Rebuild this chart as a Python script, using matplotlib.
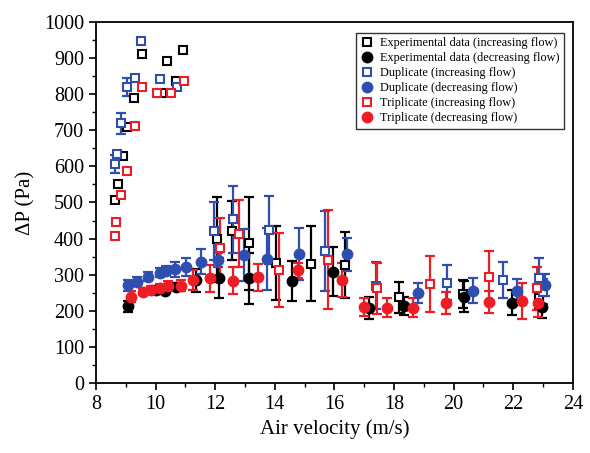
#!/usr/bin/env python3
"""Pressure drop vs air velocity, increasing / decreasing flow runs."""

import matplotlib

matplotlib.use("Agg")
import matplotlib.pyplot as plt
from matplotlib.ticker import MultipleLocator

# Experimental data (black)
exp_inc_x = [8.64, 8.73, 8.92, 9.03, 9.28, 9.53, 10.2, 10.37, 10.68, 10.93,
             12.07, 12.55, 13.14, 14.04, 15.2, 16.34, 18.17, 20.3, 22.85]
exp_inc_y = [507, 550, 630, 708, 789, 911, 804, 893, 837, 922,
             398, 422, 387, 333, 330, 327, 237, 247, 235]
exp_inc_err = [0, 0, 0, 0, 0, 0, 0, 0, 0, 0,
               117, 82, 128, 102, 104, 92, 44, 38, 30]

exp_dec_x = [9.08, 10.0, 10.3, 10.7, 11.37, 12.13, 13.12, 14.59, 15.95,
             17.15, 18.35, 20.36, 21.95, 22.97]
exp_dec_y = [213, 259, 256, 267, 285, 290, 290, 283, 308,
             207, 213, 239, 222, 211]
exp_dec_err = [15, 10, 10, 10, 32, 55, 70, 55, 68, 30, 25, 43, 35, 30]

# Duplicate (blue)
dup_inc_x = [8.64, 8.72, 8.84, 9.05, 9.31, 9.51, 10.15, 10.71,
             11.96, 12.6, 13.82, 15.7, 17.4, 19.77, 21.65, 22.85, 23.0]
dup_inc_y = [607, 634, 719, 819, 844, 947, 841, 819,
             422, 453, 424, 366, 270, 278, 285, 290, 253]
dup_inc_err = [25, 0, 28, 25, 0, 0, 0, 0,
               80, 93, 95, 110, 65, 48, 50, 56, 35]

dup_dec_x = [9.08, 9.36, 9.75, 10.14, 10.34, 10.64, 11.03, 11.53, 12.1,
             12.95, 13.75, 14.81, 16.43, 18.8, 20.66, 22.14, 23.05]
dup_dec_y = [271, 281, 295, 306, 311, 315, 322, 336, 341,
             354, 343, 357, 357, 250, 256, 256, 271]
dup_dec_err = [15, 12, 12, 12, 12, 20, 25, 35, 20,
               72, 85, 72, 46, 28, 34, 32, 30]

# Triplicate (red)
tri_inc_x = [8.64, 8.66, 8.84, 9.03, 9.31, 9.53, 10.04, 10.52, 10.96,
             12.16, 12.81, 14.14, 15.8, 17.44, 19.21, 21.2, 22.8]
tri_inc_y = [407, 446, 521, 588, 712, 819, 804, 804, 837,
             373, 414, 313, 341, 262, 274, 294, 262]
tri_inc_err = [0, 0, 0, 0, 0, 0, 0, 0, 0,
               83, 94, 102, 137, 70, 78, 72, 60]

tri_dec_x = [9.17, 9.58, 9.84, 10.14, 10.42, 10.84, 11.25, 11.81, 12.59,
             13.42, 14.78, 16.24, 16.99, 17.75, 18.64, 19.75, 21.2, 22.28, 22.82]
tri_dec_y = [239, 253, 258, 262, 270, 269, 285, 290, 283,
             293, 312, 285, 210, 209, 209, 221, 225, 228, 222]
tri_dec_err = [15, 10, 10, 12, 12, 15, 27, 37, 37,
               37, 20, 48, 25, 27, 27, 30, 30, 50, 40]

BLACK = "#000000"
BLUE = "#2f4fb0"
RED = "#ee1c24"

SERIES = [
    (exp_inc_x, exp_inc_y, exp_inc_err, BLACK, "s", False,
     "Experimental data (increasing flow)"),
    (exp_dec_x, exp_dec_y, exp_dec_err, BLACK, "o", True,
     "Experimental data (decreasing flow)"),
    (dup_inc_x, dup_inc_y, dup_inc_err, BLUE, "s", False,
     "Duplicate (increasing flow)"),
    (dup_dec_x, dup_dec_y, dup_dec_err, BLUE, "o", True,
     "Duplicate (decreasing flow)"),
    (tri_inc_x, tri_inc_y, tri_inc_err, RED, "s", False,
     "Triplicate (increasing flow)"),
    (tri_dec_x, tri_dec_y, tri_dec_err, RED, "o", True,
     "Triplicate (decreasing flow)"),
]


def main() -> None:
    plt.rcParams["font.family"] = ["Liberation Serif", "DejaVu Serif"]

    fig = plt.figure(figsize=(5.9, 4.53), dpi=100)
    ax = fig.add_axes([0.1627, 0.1545, 0.8083, 0.797])

    for x, y, err, color, marker, filled, label in SERIES:
        ax.errorbar(
            x, y, yerr=err, fmt="none", ecolor=color,
            elinewidth=1.6, capsize=3.6, capthick=1.6, zorder=2,
        )
        ax.plot(
            x, y, linestyle="none", marker=marker,
            markersize=7.0 if filled else 6.0,
            markerfacecolor=color if filled else "white",
            markeredgecolor=color, markeredgewidth=1.5,
            label=label, zorder=3,
        )

    ax.set_xlim(8, 24)
    ax.set_ylim(0, 1000)
    ax.xaxis.set_major_locator(MultipleLocator(2))
    ax.xaxis.set_minor_locator(MultipleLocator(1))
    ax.yaxis.set_major_locator(MultipleLocator(100))
    ax.yaxis.set_minor_locator(MultipleLocator(50))
    ax.tick_params(which="major", direction="out", length=5, width=1.2,
                   labelsize=14.5, top=False, right=False)
    ax.tick_params(which="minor", direction="out", length=3, width=1.0,
                   top=False, right=False)
    for spine in ax.spines.values():
        spine.set_linewidth(1.3)

    ax.set_xlabel("Air velocity (m/s)", fontsize=15, labelpad=4)
    ax.set_ylabel("ΔP (Pa)", fontsize=15, labelpad=6)

    leg = ax.legend(
        loc="upper right", bbox_to_anchor=(0.981, 0.970), borderaxespad=0,
        fontsize=8.8, frameon=True, fancybox=False, handlelength=1.0,
        handletextpad=0.6, labelspacing=0.25, borderpad=0.35,
    )
    leg.get_frame().set_edgecolor("black")
    leg.get_frame().set_linewidth(1.0)

    fig.savefig("out.png", dpi=100)


if __name__ == "__main__":
    main()
